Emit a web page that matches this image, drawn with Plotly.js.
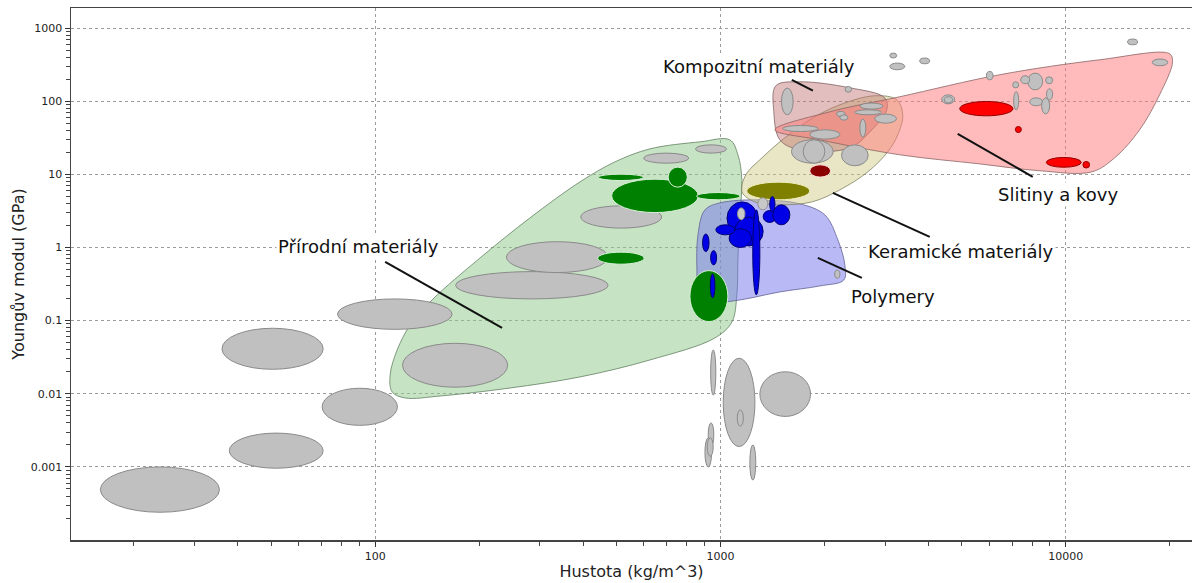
<!DOCTYPE html>
<html>
<head>
<meta charset="utf-8">
<script src="https://cdn.plot.ly/plotly-3.0.1.min.js"></script>
<style>
  html, body { margin: 0; padding: 0; background: #ffffff; }
  #chart { width: 1192px; height: 583px; }
</style>
</head>
<body>
<div id="chart"></div>
<script>
// Ashby-style chart: Young's modulus (GPa) against density (kg/m^3), log-log.
// Every material is a range box [density min, density max, modulus min, modulus max]
// drawn as an ellipse inside that box.

// --- materials outside any labelled family (grey) ---
const grayRanges = [
  [16.0, 35.4, 0.00024, 0.0010],
  [37.8, 70.7, 0.00096, 0.0029],
  [36.0, 70.7, 0.0216, 0.0787],
  [70.2, 116, 0.0037, 0.0119],
  [77.8, 167, 0.076, 0.198],
  [120, 242, 0.0123, 0.049],
  [171, 473, 0.198, 0.468],
  [240, 473, 0.454, 1.2],
  [394, 676, 1.84, 3.71],
  [600, 809, 14.2, 19.5],
  [847, 1042, 19.5, 25.3],
  [937, 970, 0.0096, 0.0397],
  [1019, 1259, 0.0019, 0.0306],
  [1119, 1165, 0.0036, 0.0060],
  [1301, 1824, 0.0049, 0.020],
  [1217, 1266, 0.00066, 0.0020],
  [922, 957, 0.0019, 0.0040],
  [902, 943, 0.0010, 0.0025],
  [916, 953, 0.0014, 0.0025],
  [2143, 2219, 0.38, 0.49],
  [1503, 1624, 65.2, 151],
  [1514, 1919, 38.5, 46.5],
  [1815, 2219, 30.3, 40.6],
  [1607, 2121, 14.2, 29.7],
  [1737, 2007, 14.2, 29.7],
  [2243, 2680, 13.1, 25.3],
  [2535, 2637, 32.3, 56.9],
  [2535, 2958, 78, 94.3],
  [2449, 2928, 65.2, 76.2],
  [2798, 3236, 50.1, 66.6],
  [2171, 2296, 61.8, 72.3],
  [2219, 2340, 55, 65.2],
  [2296, 2398, 133, 159],
  [3095, 3241, 389, 455],
  [3095, 3420, 269, 332],
  [3779, 4036, 325, 389],
  [15115, 16156, 591, 707],
  [17820, 19770, 305, 377],
  [5895, 6160, 196, 255],
  [7762, 8579, 143, 242],
  [7410, 7867, 173, 223],
  [8750, 9170, 173, 215],
  [7024, 7311, 152, 184],
  [7070, 7311, 76, 135],
  [7867, 8579, 86.5, 111],
  [8521, 8988, 67, 111],
  [8800, 9170, 104, 148],
  [4375, 4771, 92, 122],
  [4450, 4700, 95, 115]
];

// --- natural materials (green) ---
const naturalRanges = [
  [443, 598, 8.23, 10.06],
  [484, 863, 3.0, 8.6],
  [706, 802, 6.68, 12.55],
  [853, 1139, 4.48, 5.64],
  [441, 601, 0.591, 0.863],
  [816, 1051, 0.0969, 0.483]
];

// --- ceramics ---
const ceramicOliveRanges = [[1192, 1815, 4.48, 7.82]];
const ceramicDarkRanges = [[1815, 2085, 9.16, 13.5]];

// --- metals and alloys (red) ---
const metalRanges = [
  [4934, 7038, 63.1, 99.1],
  [7152, 7443, 37.3, 45.1],
  [8790, 11100, 12.5, 17.0],
  [11220, 11730, 12.2, 15.0]
];

// --- polymers (blue) ---
const polymerRanges = [
  [1045, 1280, 1.5, 4.2],
  [1100, 1330, 1.05, 2.6],
  [1060, 1230, 1.0, 1.8],
  [1330, 1450, 2.2, 3.2],
  [1419, 1589, 2.04, 3.83],
  [1241, 1301, 0.225, 3.27],
  [888, 927, 0.879, 1.53],
  [937, 975, 0.578, 0.908],
  [935, 964, 0.205, 0.435],
  [1390, 1439, 3.07, 4.97],
  [970, 1102, 1.49, 2.04]
];

// grey grades sitting on top of the polymer cluster
const grayOnPolymerRanges = [
  [1121, 1178, 2.39, 3.48],
  [1284, 1372, 3.27, 4.78]
];

// --- family envelopes (density, modulus) ---
const naturalRho = [112, 110.5, 115.8, 126.3, 146.2, 201.4, 280.9, 392.1, 495, 625, 872.5, 1065, 1124, 1154, 1139, 1124, 1116, 1080, 964, 625, 392.1, 245.9, 154.3, 122.1];
const naturalE   = [0.0106, 0.0181, 0.0397, 0.0873, 0.192, 0.721, 2.54, 7.89, 14.8, 22.3, 27.8, 29.6, 18.5, 8.41, 2.79, 0.676, 0.225, 0.096, 0.058, 0.029, 0.017, 0.012, 0.00933, 0.00877];

const polymerRho = [867, 855, 861, 902, 997, 1301, 1699, 2007, 2189, 2293, 2278, 1941, 1487, 1139, 964];
const polymerE   = [0.225, 0.494, 1.49, 3.27, 4.07, 4.48, 3.95, 2.79, 1.27, 0.578, 0.36, 0.298, 0.247, 0.192, 0.180];

const ceramicRho = [1154, 1185, 1319, 1537, 1815, 2219, 2798, 3243, 3375, 3264, 3053, 2672, 2219, 1840, 1487, 1259];
const ceramicE   = [5.76, 9.85, 16.8, 31.6, 55.7, 89.3, 118.6, 104.5, 65.2, 34.7, 20.3, 10.8, 6.14, 4.2, 3.83, 4.2];

const compositeRho = [1447, 1699, 2370, 2993, 3033, 2745, 2370, 1699, 1487, 1428];
const compositeE   = [162.4, 184, 152.5, 111, 76.3, 40.6, 23.0, 21.6, 29.6, 71.6];

const metalRho = [1438, 2075, 3308, 6442, 12544, 19999, 20400, 18707, 16377, 13864, 11895, 8410, 5637, 3308, 1941];
const metalE   = [40.6, 71.6, 115, 230, 368, 445, 346, 122, 40.6, 16.8, 10.8, 11.2, 13.9, 18.5, 29.6];

// --- family labels and their pointer lines ---
const labelText = ['Přírodní materiály', 'Kompozitní materiály', 'Slitiny a kovy', 'Keramické materiály', 'Polymery'];
const labelRho  = [89.3, 1292, 9480, 4966, 3157];
const labelE    = [1.02, 296, 5.24, 0.871, 0.211];
const pointerRho = [[106.9, 233.1], [1610, 1853], [4868, 8029], [2117, 4040], [1915, 2568]];
const pointerE   = [[0.635, 0.0794], [196, 139], [35.8, 9.24], [5.58, 1.40], [0.721, 0.384]];

// ------------------------------------------------------------------
const FONT = 'DejaVu Sans, Verdana, sans-serif';

function envelope(rho, E, fill, edge) {
  return {
    type: 'scatter', mode: 'lines',
    x: rho.concat([rho[0]]), y: E.concat([E[0]]),
    fill: 'toself', fillcolor: fill,
    line: { color: edge, width: 1, shape: 'spline', smoothing: 1 },
    hoverinfo: 'skip', showlegend: false
  };
}

const traces = [
  envelope(naturalRho, naturalE, 'rgba(141,201,137,0.5)', 'rgba(100,130,100,0.8)'),
  envelope(polymerRho, polymerE, 'rgba(115,115,235,0.5)', 'rgba(100,100,150,0.8)'),
  envelope(ceramicRho, ceramicE, 'rgba(205,200,125,0.45)', 'rgba(130,130,100,0.8)'),
  envelope(compositeRho, compositeE, 'rgba(190,110,110,0.45)', 'rgba(130,100,100,0.8)'),
  envelope(metalRho, metalE, 'rgba(255,120,120,0.5)', 'rgba(140,100,100,0.8)')
];

const shapes = [];
function addEllipses(ranges, fill, edge, width) {
  ranges.forEach(function (r) {
    shapes.push({
      type: 'circle', xref: 'x', yref: 'y',
      x0: r[0], x1: r[1], y0: r[2], y1: r[3],
      fillcolor: fill, line: { color: edge, width: width }, layer: 'above'
    });
  });
}
addEllipses(grayRanges, '#c0c0c0', '#8a8a8a', 1);
addEllipses(naturalRanges, '#008000', '#d8f0d8', 1);
addEllipses(ceramicOliveRanges, '#808000', '#f0f0c0', 1);
addEllipses(ceramicDarkRanges, '#8b0000', '#ffdddd', 1);
addEllipses(metalRanges, '#ff0000', '#900000', 1);
addEllipses(polymerRanges, '#0000e6', '#000070', 1);
addEllipses(grayOnPolymerRanges, '#c8c8c8', '#909090', 1);

pointerRho.forEach(function (px, i) {
  shapes.push({
    type: 'line', xref: 'x', yref: 'y',
    x0: px[0], x1: px[1], y0: pointerE[i][0], y1: pointerE[i][1],
    line: { color: '#111111', width: 2 }, layer: 'above'
  });
});

const annotations = labelText.map(function (t, i) {
  return {
    text: t, xref: 'x', yref: 'y',
    x: Math.log10(labelRho[i]), y: Math.log10(labelE[i]),
    showarrow: false, xanchor: 'center', yanchor: 'middle',
    bgcolor: '#ffffff', borderpad: 1,
    font: { family: FONT, size: 18, color: '#111111' }
  };
});

// decade ticks with unit-digit minor ticks between them
function axisStyle() {
  return {
    type: 'log',
    tickmode: 'linear', tick0: 0, dtick: 1,
    tickformat: '~g',
    ticks: 'outside', ticklen: 5, tickcolor: '#333333',
    minor: { dtick: 'D1', ticks: 'outside', ticklen: 4, tickcolor: '#444444', showgrid: false },
    showline: true, linecolor: '#444444', linewidth: 1.5,
    showgrid: true, gridcolor: '#9c9c9c', gridwidth: 1, griddash: '3px,3px',
    zeroline: false,
    tickfont: { family: FONT, size: 11, color: '#222222' }
  };
}

const layout = {
  width: 1192, height: 583,
  margin: { l: 71, r: 0, t: 8, b: 43 },
  paper_bgcolor: '#ffffff', plot_bgcolor: '#ffffff',
  showlegend: false, hovermode: false,
  xaxis: Object.assign(axisStyle(), {
    range: [1.119, 4.366],
    mirror: true,
    title: { text: 'Hustota (kg/m^3)', standoff: 4, font: { family: FONT, size: 16, color: '#222222' } }
  }),
  yaxis: Object.assign(axisStyle(), {
    range: [-3.999, 3.274],
    title: { text: 'Youngův modul (GPa)', standoff: 2, font: { family: FONT, size: 16, color: '#222222' } }
  }),
  shapes: shapes,
  annotations: annotations
};

Plotly.newPlot('chart', traces, layout, { staticPlot: true, displayModeBar: false });
</script>
</body>
</html>
